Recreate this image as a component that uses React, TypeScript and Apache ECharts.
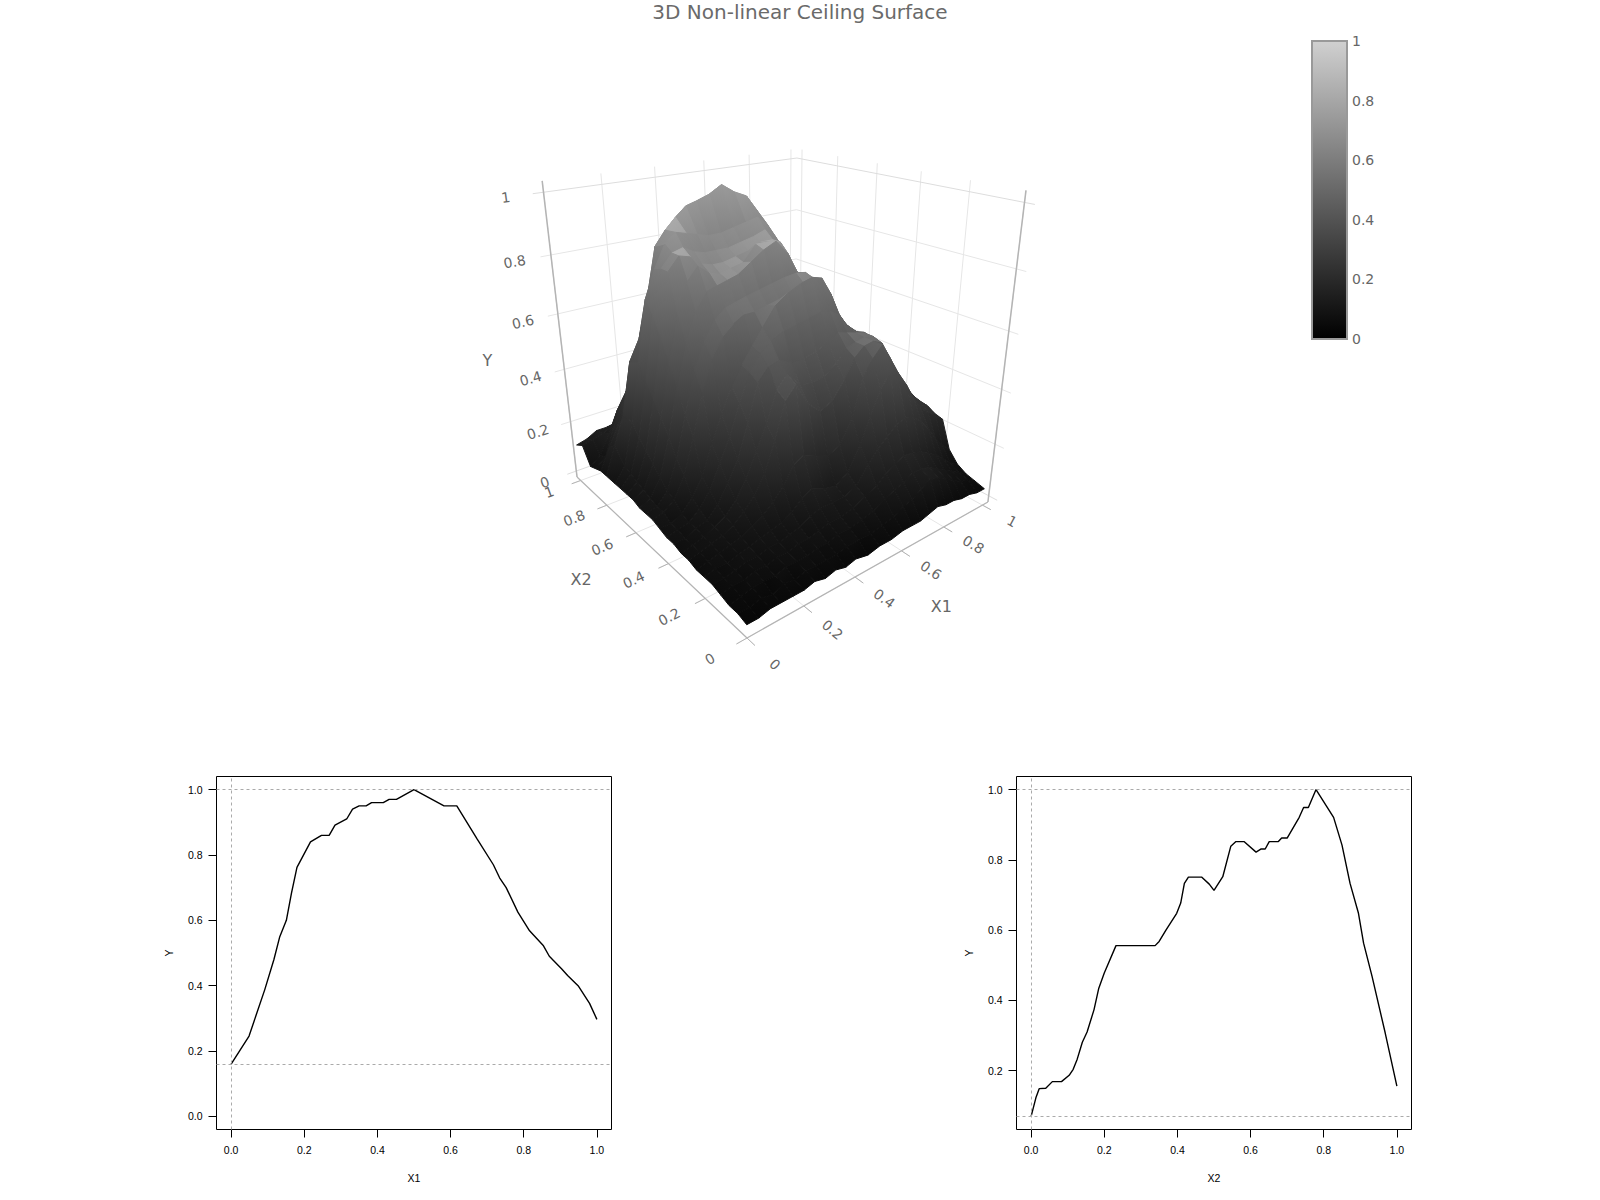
import React, { useEffect, useRef } from "react";
import * as echarts from "echarts";

const TITLE = "3D Non-linear Ceiling Surface";

const X1_GRID = [0,.04,.08,.12,.16,.2,.24,.28,.32,.36,.4,.45,.5,.55,.6,.64,.68,.72,.76,.8,.84,.88,.92,.96,1];
const X2_GRID = [0,.04,.08,.12,.16,.2,.24,.28,.32,.36,.4,.44,.48,.52,.56,.6,.64,.68,.72,.78,.82,.86,.9,.95,1];
// one row per X2_GRID value, one column per X1_GRID value
const SURFACE_Y = [
  [.02,.02,.03,.03,.03,.03,.04,.03,.04,.03,.04,.03,.04,.04,.05,.05,.05,.06,.07,.06,.06,.05,.05,.04,.04],
  [.03,.03,.04,.03,.05,.04,.05,.05,.05,.05,.06,.06,.06,.07,.08,.1,.11,.13,.15,.14,.12,.1,.08,.07,.05],
  [.03,.04,.05,.05,.05,.06,.06,.06,.07,.07,.08,.08,.09,.1,.12,.14,.15,.17,.17,.16,.14,.12,.1,.08,.06],
  [.04,.05,.05,.06,.06,.07,.07,.08,.08,.09,.1,.1,.11,.13,.15,.18,.2,.215,.21,.2,.18,.16,.13,.1,.08],
  [.05,.05,.06,.07,.07,.08,.08,.09,.1,.12,.13,.13,.13,.15,.21,.25,.28,.31,.32,.31,.28,.24,.19,.15,.12],
  [.05,.06,.06,.07,.08,.09,.1,.11,.13,.16,.18,.16,.15,.18,.26,.35,.43,.478,.44,.41,.35,.3,.27,.25,.22],
  [.05,.06,.07,.08,.09,.11,.13,.16,.2,.26,.28,.26,.24,.26,.34,.47,.52,.556,.5,.44,.38,.33,.3,.27,.23],
  [.06,.07,.08,.09,.11,.14,.18,.24,.34,.46,.5,.42,.38,.4,.46,.52,.55,.556,.54,.46,.39,.34,.31,.27,.24],
  [.06,.07,.08,.1,.12,.16,.22,.3,.38,.48,.52,.47,.46,.47,.5,.54,.55,.556,.55,.5,.43,.37,.33,.29,.25],
  [.07,.07,.09,.1,.14,.2,.27,.38,.5,.54,.55,.53,.53,.54,.56,.58,.57,.56,.55,.52,.47,.41,.36,.31,.27],
  [.07,.08,.09,.12,.17,.25,.33,.43,.52,.57,.6,.62,.63,.64,.65,.64,.62,.57,.54,.53,.5,.44,.38,.33,.27],
  [.08,.08,.1,.14,.2,.3,.39,.47,.53,.58,.63,.69,.72,.74,.751,.74,.68,.6,.55,.52,.5,.46,.41,.35,.28],
  [.09,.1,.13,.2,.32,.46,.56,.62,.65,.67,.67,.68,.69,.7,.72,.73,.7,.64,.57,.53,.5,.47,.42,.35,.28],
  [.09,.1,.14,.24,.38,.52,.6,.66,.69,.7,.71,.72,.73,.74,.745,.74,.7,.66,.6,.54,.5,.47,.42,.35,.28],
  [.09,.11,.17,.3,.46,.6,.69,.74,.75,.76,.77,.8,.83,.85,.8,.73,.68,.62,.58,.55,.5,.47,.42,.35,.28],
  [.1,.12,.2,.35,.53,.68,.77,.81,.78,.77,.78,.79,.84,.84,.83,.76,.7,.64,.58,.53,.5,.47,.42,.36,.28],
  [.1,.13,.23,.4,.6,.8,.84,.83,.8,.79,.79,.8,.81,.83,.83,.8,.74,.68,.6,.54,.5,.47,.42,.36,.29],
  [.1,.14,.26,.45,.66,.8,.84,.85,.83,.82,.82,.82,.83,.84,.855,.83,.76,.7,.62,.55,.5,.47,.42,.36,.29],
  [.1,.15,.3,.5,.7,.79,.86,.89,.88,.87,.86,.86,.87,.88,.89,.86,.78,.72,.63,.56,.51,.47,.43,.36,.29],
  [.1,.2,.3,.48,.55,.68,.84,.885,.92,.95,.96,.975,1,.97,.95,.9,.83,.76,.68,.58,.52,.47,.43,.37,.3],
  [.1,.18,.25,.34,.44,.54,.68,.78,.84,.88,.9,.92,.94,.93,.9,.84,.76,.7,.62,.54,.49,.45,.41,.36,.3],
  [.09,.12,.22,.3,.38,.48,.58,.68,.74,.77,.79,.8,.8,.78,.76,.7,.64,.58,.52,.47,.44,.41,.37,.33,.28],
  [.08,.11,.18,.26,.32,.4,.48,.55,.6,.62,.63,.63,.63,.62,.6,.56,.52,.47,.43,.39,.36,.33,.3,.28,.25],
  [.14,.15,.16,.18,.22,.28,.32,.36,.38,.39,.4,.4,.4,.39,.37,.35,.33,.31,.29,.27,.25,.24,.22,.2,.19],
  [.12,.13,.15,.15,.157,.157,.157,.15,.15,.15,.15,.15,.15,.15,.14,.14,.14,.14,.13,.13,.12,.12,.12,.11,.1],
];

const PROFILE_X1 = [[0,.16],[.049,.246],[.0675,.307],[.092,.388],[.117,.48],[.133,.55],[.151,.6],[.165,.683],[.18,.762],[.217,.84],[.247,.86],[.268,.86],[.284,.891],[.316,.91],[.332,.94],[.35,.95],[.369,.95],[.384,.96],[.416,.96],[.432,.97],[.452,.97],[.5,1],[.582,.95],[.617,.95],[.672,.85],[.717,.77],[.734,.73],[.752,.7],[.784,.625],[.816,.568],[.854,.522],[.87,.49],[.904,.451],[.92,.431],[.95,.398],[.98,.346],[1,.297]];
const PROFILE_X2 = [[0,.07],[.013,.123],[.022,.149],[.04,.15],[.058,.169],[.083,.169],[.104,.187],[.115,.204],[.126,.233],[.14,.281],[.153,.31],[.172,.374],[.185,.435],[.2,.478],[.232,.556],[.339,.556],[.35,.568],[.369,.601],[.398,.648],[.409,.677],[.419,.733],[.43,.751],[.466,.751],[.487,.731],[.5,.713],[.524,.752],[.546,.839],[.56,.852],[.582,.852],[.615,.822],[.629,.831],[.64,.831],[.651,.852],[.676,.852],[.685,.862],[.70,.862],[.733,.921],[.745,.949],[.758,.949],[.779,1],[.827,.921],[.85,.842],[.872,.733],[.895,.648],[.909,.563],[.932,.469],[.968,.308],[1,.156]];

const TICKS_3D = [0, .2, .4, .6, .8, 1];
const TICKS_2D = [0, .2, .4, .6, .8, 1];
const TICKS_Y_RIGHT = [.2, .4, .6, .8, 1];
const REF_X1 = { y: [1, .16], x: [0] };
const REF_X2 = { y: [1, .07], x: [0] };

// box limits of the 3D scene
const XMAX = 1.03, YMIN = -.025, YMAX = 1.035;

// perspective camera of the scene
function project(x1: number, x2: number, h: number): [number, number] {
  const d = .9953 + .2717 * x1 + .343 * x2 - .187 * h;
  return [(743.35 + 502.3 * x1 + 32.9 * x2 - 145.9 * h) / d, (627.7 + 4.33 * x1 + 7.28 * x2 - 411.9 * h) / d];
}
const depth = (x1: number, x2: number, h: number) => .2717 * x1 + .343 * x2 - .187 * h;

const TOP_GRAY = 208;
function gray(h: number, f: number) {
  const v = Math.max(0, Math.min(255, Math.round(h * TOP_GRAY * f + 3 * (1 - h))));
  return `rgb(${v},${v},${v})`;
}

function surfaceItem(_p: any, api: any) {
  const r = api.value(0), c = api.value(1);
  const xa = X1_GRID[c], xb = X1_GRID[c + 1], ya = X2_GRID[r], yb = X2_GRID[r + 1];
  const hs = [SURFACE_Y[r][c], SURFACE_Y[r][c + 1], SURFACE_Y[r + 1][c + 1], SURFACE_Y[r + 1][c]];
  const cs: [number, number][] = [[xa, ya], [xb, ya], [xb, yb], [xa, yb]];
  const pts = cs.map((q, i) => project(q[0], q[1], hs[i]));
  const dx = ((hs[1] + hs[2]) - (hs[0] + hs[3])) / 2 / (xb - xa);
  const dy = ((hs[2] + hs[3]) - (hs[0] + hs[1])) / 2 / (yb - ya);
  const s2 = dx * dx + dy * dy;
  const f = .72 + .27 / (1 + s2 / .3);
  let lo = 0, hi = 0;
  hs.forEach((v, i) => { if (v < hs[lo]) lo = i; if (v > hs[hi]) hi = i; });
  const fill: any = hs[hi] - hs[lo] < .004 ? gray(hs[hi], f) : {
    type: "linear", global: true,
    x: pts[lo][0], y: pts[lo][1], x2: pts[hi][0], y2: pts[hi][1],
    colorStops: [{ offset: 0, color: gray(hs[lo], f) }, { offset: 1, color: gray(hs[hi], f) }],
  };
  return {
    type: "polygon", silent: true,
    shape: { points: pts },
    style: { fill, stroke: fill, lineWidth: 1 },
  };
}

const GRID_C = "#e6e6e6", AXIS_C = "#b4b4b4", TEXT_C = "#666666";
const fmt = (v: number) => String(v);

function line(a: [number, number], b: [number, number], stroke: string, lineWidth = 1) {
  return { type: "line", silent: true, shape: { x1: a[0], y1: a[1], x2: b[0], y2: b[1] }, style: { stroke, lineWidth } };
}
function label(text: string, p: [number, number], rotation: number, size = 14) {
  return {
    type: "text", silent: true, x: p[0], y: p[1], rotation,
    style: { text, x: 0, y: 0, fill: TEXT_C, font: `${size}px "DejaVu Sans"`, align: "center", verticalAlign: "middle" },
  };
}
function dirAngle(a: [number, number], b: [number, number]) {
  return -Math.atan2(b[1] - a[1], b[0] - a[0]);
}

function frameItem() {
  const ch: any[] = [];
  const tickLen = .035;
  TICKS_3D.forEach((t) => {
    ch.push(line(project(t, XMAX, YMIN), project(t, XMAX, YMAX), GRID_C));
    ch.push(line(project(XMAX, t, YMIN), project(XMAX, t, YMAX), GRID_C));
    ch.push(line(project(-tickLen, XMAX, t), project(XMAX, XMAX, t), t === 0 || t === 1 ? "#dddddd" : GRID_C));
    ch.push(line(project(XMAX, -tickLen, t), project(XMAX, XMAX, t), t === 0 || t === 1 ? "#dddddd" : GRID_C));
    ch.push(line(project(t, -tickLen, YMIN), project(t, XMAX, YMIN), GRID_C));
    ch.push(line(project(-tickLen, t, YMIN), project(XMAX, t, YMIN), GRID_C));
    ch.push(line(project(t, -tickLen, YMIN), project(t, 0, YMIN), AXIS_C));
    ch.push(line(project(-tickLen, t, YMIN), project(0, t, YMIN), AXIS_C));
  });
  ch.push(line(project(0, XMAX, YMIN), project(0, XMAX, YMAX), AXIS_C, 1.5));
  ch.push(line(project(XMAX, 0, YMIN), project(XMAX, 0, YMAX), AXIS_C, 1.5));
  ch.push(line(project(0, 0, YMIN), project(XMAX, 0, YMIN), AXIS_C, 1.2));
  ch.push(line(project(0, 0, YMIN), project(0, XMAX, YMIN), AXIS_C, 1.2));
  TICKS_3D.forEach((t) => {
    ch.push(label(fmt(t), project(t, -.12, YMIN), dirAngle(project(t, .2, YMIN), project(t, 0, YMIN))));
    ch.push(label(fmt(t), project(-.12, t, YMIN), dirAngle(project(0, t, YMIN), project(.2, t, YMIN))));
    ch.push(label(fmt(t), project(-.12, XMAX, t), dirAngle(project(0, XMAX, t), project(.2, XMAX, t))));
  });
  ch.push(label("X1", project(.5, -.245, YMIN), 0, 16));
  ch.push(label("X2", project(-.24, .5, YMIN), 0, 16));
  ch.push(label("Y", project(-.25, XMAX, .5), 0, 16));
  return { type: "group", children: ch };
}

function colorbarItem(_p: any, api: any) {
  const a = api.coord([0, 1]), b = api.coord([1, 0]);
  return {
    type: "rect", silent: true,
    shape: { x: a[0], y: a[1], width: b[0] - a[0], height: b[1] - a[1] },
    style: {
      stroke: "#999999", lineWidth: 2,
      fill: { type: "linear", x: 0, y: 0, x2: 0, y2: 1, colorStops: [{ offset: 0, color: "rgb(208,208,208)" }, { offset: 1, color: "#000000" }] },
    },
  };
}

const R_FONT = "Liberation Sans";
function rXAxis(gridIndex: number, name: string) {
  return {
    type: "value", gridIndex, min: -.04, max: 1.04, name, nameLocation: "middle", nameGap: 43,
    nameTextStyle: { color: "#000", fontSize: 10.5, fontFamily: R_FONT },
    axisLine: { show: false, onZero: false },
    axisTick: { show: true, length: 8, customValues: TICKS_2D, lineStyle: { color: "#000", width: 1 } },
    axisLabel: { show: true, margin: 15, color: "#000", fontSize: 10.5, fontFamily: R_FONT, customValues: TICKS_2D, formatter: (v: number) => v.toFixed(1) },
    splitLine: { show: false },
  };
}
function rYAxis(gridIndex: number, min: number, max: number, ticks: number[]) {
  return {
    type: "value", gridIndex, min, max, name: "Y", nameLocation: "middle", nameGap: 42, nameRotate: 90,
    nameTextStyle: { color: "#000", fontSize: 10.5, fontFamily: R_FONT },
    axisLine: { show: false, onZero: false },
    axisTick: { show: true, length: 8, customValues: ticks, lineStyle: { color: "#000", width: 1 } },
    axisLabel: { show: true, margin: 14, color: "#000", fontSize: 10.5, fontFamily: R_FONT, customValues: ticks, formatter: (v: number) => v.toFixed(1) },
    splitLine: { show: false },
  };
}
function rSeries(idx: number, data: number[][], ref: { y: number[]; x: number[] }) {
  return {
    type: "line", xAxisIndex: idx, yAxisIndex: idx, data, showSymbol: false, symbol: "none",
    lineStyle: { color: "#000", width: 1.4 }, silent: true, z: 3,
    markLine: {
      silent: true, symbol: "none", animation: false, label: { show: false },
      lineStyle: { color: "#aaaaaa", width: 1, type: [3, 3] },
      data: [...ref.y.map((yAxis) => ({ yAxis })), ...ref.x.map((xAxis) => ({ xAxis }))],
    },
  };
}

export default function App() {
  const ref = useRef<HTMLDivElement>(null);
  useEffect(() => {
    const chart = echarts.init(ref.current!, undefined, { renderer: "svg" });
    const quads: { value: number[]; d: number }[] = [];
    for (let r = 0; r < X2_GRID.length - 1; r++) {
      for (let c = 0; c < X1_GRID.length - 1; c++) {
        const h = (SURFACE_Y[r][c] + SURFACE_Y[r][c + 1] + SURFACE_Y[r + 1][c] + SURFACE_Y[r + 1][c + 1]) / 4;
        quads.push({ value: [r, c], d: depth((X1_GRID[c] + X1_GRID[c + 1]) / 2, (X2_GRID[r] + X2_GRID[r + 1]) / 2, h) });
      }
    }
    quads.sort((a, b) => b.d - a.d);
    const box = { show: true, borderColor: "#000", borderWidth: 1, backgroundColor: "transparent" };
    chart.setOption({
      animation: false,
      backgroundColor: "#fff",
      title: { text: TITLE, left: "center", top: -3, textStyle: { color: "#6a6a6a", fontSize: 20, fontWeight: "normal", fontFamily: "DejaVu Sans" } },
      grid: [
        { left: 216.5, top: 776.5, width: 395, height: 353, ...box },
        { left: 1016.5, top: 776.5, width: 395, height: 353, ...box },
        { left: 1312, top: 41, width: 35, height: 298, show: false },
      ],
      xAxis: [
        rXAxis(0, "X1"), rXAxis(1, "X2"),
        { type: "value", gridIndex: 2, min: 0, max: 1, show: false },
      ],
      yAxis: [
        rYAxis(0, -.04, 1.04, TICKS_2D),
        rYAxis(1, .0328, 1.0372, TICKS_Y_RIGHT),
        {
          type: "value", gridIndex: 2, min: 0, max: 1, interval: .2, position: "right",
          axisLine: { show: false }, splitLine: { show: false },
          axisTick: { show: true, length: 4, lineStyle: { color: "#999", width: 1 } },
          axisLabel: { margin: 5, color: TEXT_C, fontSize: 14, fontFamily: "DejaVu Sans", formatter: (v: number) => String(+v.toFixed(1)) },
        },
      ],
      series: [
        { type: "custom", coordinateSystem: "none", renderItem: frameItem, data: [[0]], z: 1, silent: true },
        { type: "custom", coordinateSystem: "none", renderItem: surfaceItem, data: quads.map((q) => q.value), z: 2, silent: true, progressive: 0 },
        rSeries(0, PROFILE_X1, REF_X1),
        rSeries(1, PROFILE_X2, REF_X2),
        { type: "custom", xAxisIndex: 2, yAxisIndex: 2, renderItem: colorbarItem, data: [[0, 0]], z: 2, silent: true, clip: false },
      ],
    });
    return () => chart.dispose();
  }, []);
  return <div ref={ref} style={{ position: "absolute", left: 0, top: 0, width: 1600, height: 1200 }} />;
}
